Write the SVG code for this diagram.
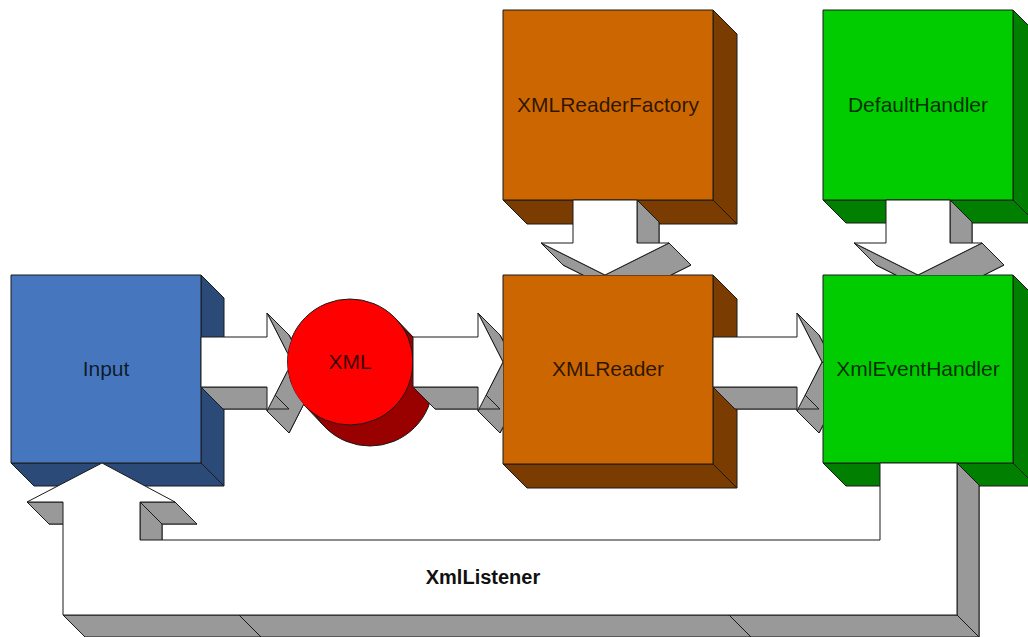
<svg xmlns="http://www.w3.org/2000/svg" width="1028" height="637" viewBox="0 0 1028 637">
<style>
  .e{stroke:#1a1a1a;stroke-width:1;stroke-linejoin:round}
  .g{fill:#999999}
  .w{fill:#ffffff}
  .bf{fill:#4677be}.bd{fill:#2b4a78}
  .of{fill:#cc6600}.od{fill:#7a3c00}
  .gf{fill:#00cc00}.gd{fill:#007f00}
  .lbl{font-family:"Liberation Sans",Arial,sans-serif;font-size:21px;text-anchor:middle;fill:#000;fill-opacity:0.78}
  .cap{font-family:"Liberation Sans",Arial,sans-serif;font-size:20px;font-weight:bold;text-anchor:middle;fill:#111}
</style>
<defs>
  <clipPath id="clipXml"><path clip-rule="evenodd" d="M0 0H1028V637H0Z M287 362a63 63 0 1 0 126 0a63 63 0 1 0 -126 0Z"/></clipPath>
  <clipPath id="clipReaderL"><rect x="0" y="0" width="503" height="637"/></clipPath>
  <clipPath id="clipEventL"><rect x="0" y="0" width="823" height="637"/></clipPath>
  <clipPath id="clipTop"><rect x="0" y="0" width="1028" height="275"/></clipPath>
</defs>
<rect x="0" y="0" width="1028" height="637" fill="#ffffff"/>

<g id="node-input">
  <polygon class="e bd" points="201,275 224,298 224,486 201,463"/>
  <polygon class="e bd" points="11,463 201,463 224,486 34,486"/>
  <rect class="e bf" x="11" y="275" width="190" height="188"/>
  <text class="lbl" x="106" y="376">Input</text>
</g>

<g id="node-xmlreaderfactory">
  <polygon class="e od" points="713,10 737,34 737,224 713,200"/>
  <polygon class="e od" points="503,200 713,200 737,224 527,224"/>
  <rect class="e of" x="503" y="10" width="210" height="190"/>
  <text class="lbl" x="608" y="112">XMLReaderFactory</text>
</g>

<g id="node-defaulthandler">
  <polygon class="e gd" points="1013,10 1036,33 1036,223 1013,200"/>
  <polygon class="e gd" points="823,200 1013,200 1036,223 846,223"/>
  <rect class="e gf" x="823" y="10" width="190" height="190"/>
  <text class="lbl" x="918" y="112">DefaultHandler</text>
</g>

<g id="node-xml">
  <path class="e" fill="#990000" d="M394.5 317.5 L414.5 338.5 A63 63 0 0 1 325.5 427.5 L305.5 406.5 Z"/>
  <circle class="e" fill="#990000" cx="370" cy="383" r="63"/>
  <circle class="e" fill="#ff0000" cx="350" cy="362" r="63"/>
  <text class="lbl" x="350" y="369">XML</text>
</g>

<g id="node-xmlreader">
  <polygon class="e od" points="713,275 737,299 737,488 713,464"/>
  <polygon class="e od" points="503,464 713,464 737,488 527,488"/>
  <rect class="e of" x="503" y="275" width="210" height="189"/>
  <text class="lbl" x="608" y="376">XMLReader</text>
</g>

<g id="node-xmleventhandler">
  <polygon class="e gd" points="1013,275 1036,298 1036,486 1013,463"/>
  <polygon class="e gd" points="823,463 1013,463 1036,486 846,486"/>
  <rect class="e gf" x="823" y="275" width="190" height="188"/>
  <text class="lbl" x="918" y="376">XmlEventHandler</text>
</g>

<g id="connectors">
  <g id="arrow-input-xml" clip-path="url(#clipXml)">
    <polygon class="e g" points="223,359 289,359 289,335 314,384 289,433 289,409 223,409"/>
    <polygon class="e g" points="267,313 292,362 314,384 289,335"/>
    <polygon class="e g" points="292,362 267,411 289,433 314,384"/>
    <polygon class="e g" points="201,387 267,387 289,409 223,409"/>
    <polygon class="e w" points="201,337 267,337 267,313 292,362 267,411 267,387 201,387"/>
  </g>
  <g id="arrow-xml-xmlreader" clip-path="url(#clipReaderL)">
    <polygon class="e g" points="435,359 500,359 500,335 525,384 500,433 500,409 435,409"/>
    <polygon class="e g" points="478,313 503,362 525,384 500,335"/>
    <polygon class="e g" points="503,362 478,411 500,433 525,384"/>
    <polygon class="e g" points="413,387 478,387 500,409 435,409"/>
    <polygon class="e w" points="413,337 478,337 478,313 503,362 478,411 478,387 413,387"/>
  </g>
  <g id="arrow-xmlreader-xmleventhandler" clip-path="url(#clipEventL)">
    <polygon class="e g" points="735,359 819,359 819,335 844,384 819,433 819,409 735,409"/>
    <polygon class="e g" points="797,313 822,362 844,384 819,335"/>
    <polygon class="e g" points="822,362 797,411 819,433 844,384"/>
    <polygon class="e g" points="713,387 797,387 819,409 735,409"/>
    <polygon class="e w" points="713,337 797,337 797,313 822,362 797,411 797,387 713,387"/>
  </g>
  <g id="arrow-factory-xmlreader" clip-path="url(#clipTop)">
    <polygon class="e g" points="595,222 659,222 659,265 691,265 627,297 563,265 595,265"/>
    <polygon class="e g" points="637,200 659,222 659,265 637,243"/>
    <polygon class="e g" points="669,243 605,275 627,297 691,265"/>
    <polygon class="e g" points="605,275 541,243 563,265 627,297"/>
    <polygon class="e w" points="573,200 637,200 637,243 669,243 605,275 541,243 573,243"/>
  </g>
  <g id="arrow-defaulthandler-xmleventhandler" clip-path="url(#clipTop)">
    <polygon class="e g" points="908,222 972,222 972,265 1004,265 940,297 876,265 908,265"/>
    <polygon class="e g" points="950,200 972,222 972,265 950,243"/>
    <polygon class="e g" points="982,243 918,275 940,297 1004,265"/>
    <polygon class="e g" points="918,275 854,243 876,265 940,297"/>
    <polygon class="e w" points="886,200 950,200 950,243 982,243 918,275 854,243 886,243"/>
  </g>
  <g id="arrow-xmllistener">
    <polygon class="e g" points="902,485 902,562 162,562 162,524 197,524 124,485 49,524 85,524 85,637 979,637 979,485"/>
    <polygon class="e g" points="140,540 140,502 162,524 162,562"/>
    <polygon class="e g" points="140,502 175,502 197,524 162,524"/>
    <polygon class="e g" points="27,502 63,502 85,524 49,524"/>
    <polygon class="e g" points="63,615 957,615 979,637 85,637"/>
    <polygon class="e g" points="957,615 957,463 979,485 979,637"/>
    <line class="e" x1="239" y1="615" x2="261" y2="637"/>
    <line class="e" x1="729" y1="615" x2="751" y2="637"/>
    <polygon class="e w" points="880,463 880,540 140,540 140,502 175,502 102,463 27,502 63,502 63,615 957,615 957,463"/>
    <text class="cap" x="483" y="584">XmlListener</text>
  </g>
</g>
</svg>
